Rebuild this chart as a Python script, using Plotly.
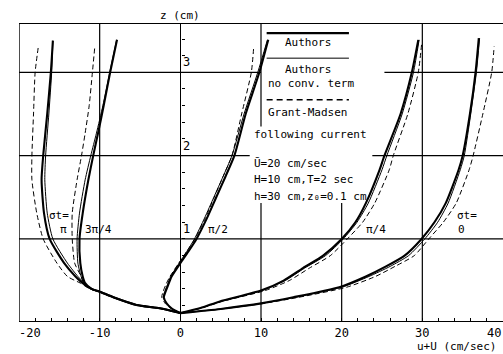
import plotly.graph_objects as go

# ---------------- data (x = u+U in cm/sec, z in cm) ----------------
# sigma t = 0
z_0 = [0.11, 0.16, 0.23, 0.30, 0.42, 0.55, 0.67, 0.80, 1.00, 1.20, 1.43, 1.83, 2.00, 2.50, 3.00, 3.41]
x_0_auth = [0, 5.0, 10.2, 14.0, 19.7, 23.0, 25.5, 27.8, 29.9, 31.5, 32.9, 34.5, 35.0, 35.9, 36.6, 37.0]
x_0_noconv = [0, 5.0, 10.3, 14.2, 20.0, 23.4, 26.0, 28.3, 30.3, 31.9, 33.2, 34.7, 35.2, 36.0, 36.7, 37.1]
z_0_gm = [0.11, 0.16, 0.23, 0.30, 0.42, 0.55, 0.67, 0.80, 1.00, 1.20, 1.43, 1.83, 2.00, 2.50, 3.00, 3.31]
x_0_gm = [0, 5.2, 10.6, 14.7, 20.6, 24.2, 26.6, 29.0, 30.8, 32.6, 34.2, 35.8, 36.3, 37.5, 38.6, 38.9]

# sigma t = pi/4
z_q = [0.11, 0.17, 0.25, 0.38, 0.50, 0.65, 0.80, 1.00, 1.20, 1.43, 1.83, 2.00, 2.50, 3.00, 3.39]
x_q_auth = [0, 2.5, 4.9, 10.0, 12.8, 15.2, 17.7, 20.0, 21.7, 23.0, 24.7, 25.3, 27.3, 28.7, 29.5]
x_q_noconv = [0, 2.5, 5.0, 10.1, 13.0, 15.4, 18.0, 20.2, 21.9, 23.3, 25.0, 25.6, 27.5, 28.9, 29.6]
z_q_gm = [0.11, 0.17, 0.25, 0.38, 0.50, 0.65, 0.80, 1.00, 1.20, 1.43, 1.83, 2.00, 2.50, 3.00, 3.33]
x_q_gm = [0, 2.6, 5.2, 10.5, 13.5, 16.0, 18.6, 20.7, 22.6, 24.1, 25.9, 26.4, 28.2, 29.5, 29.9]

# sigma t = pi/2
z_h = [0.11, 0.168, 0.228, 0.30, 0.35, 0.45, 0.547, 0.71, 0.85, 1.00, 1.25, 1.50, 1.75, 2.00, 2.50, 3.00, 3.39]
x_h_auth = [0, -1.1, -1.7, -2.05, -1.9, -1.5, -1.1, 0, 1.0, 2.0, 3.3, 4.45, 5.6, 6.7, 8.1, 9.8, 10.9]
x_h_noconv = [0, -1.1, -1.75, -2.1, -2.0, -1.6, -1.2, -0.15, 0.8, 1.75, 3.0, 4.15, 5.3, 6.4, 7.9, 9.6, 10.8]
z_h_gm = [0.11, 0.168, 0.228, 0.30, 0.35, 0.45, 0.547, 0.71, 0.85, 1.00, 1.25, 1.50, 1.75, 2.00, 2.50, 3.00, 3.31]
x_h_gm = [0, -1.2, -1.9, -2.3, -2.2, -1.8, -1.3, -0.2, 0.8, 1.8, 3.1, 4.2, 5.3, 6.4, 7.6, 8.8, 9.1]

# sigma t = 3pi/4
z_t = [0.11, 0.168, 0.208, 0.30, 0.367, 0.40, 0.47, 0.55, 0.71, 1.00, 1.31, 1.71, 2.00, 2.27, 2.60, 3.00, 3.39]
x_t_auth = [0, -2.56, -5.45, -8.3, -10.0, -11.0, -11.8, -12.1, -12.4, -12.5, -12.1, -11.4, -10.8, -10.2, -9.5, -8.7, -7.85]
x_t_noconv = [0, -2.56, -5.45, -8.3, -10.0, -11.0, -11.9, -12.3, -12.7, -12.8, -12.5, -11.8, -11.1, -10.4, -9.6, -8.75, -7.9]
z_t_gm = [0.11, 0.168, 0.208, 0.30, 0.367, 0.40, 0.47, 0.55, 0.71, 1.00, 1.31, 1.71, 2.00, 2.27, 2.60, 3.00, 3.31]
x_t_gm = [0, -2.6, -5.5, -8.4, -10.1, -11.2, -12.0, -12.3, -13.1, -13.4, -13.4, -12.8, -12.25, -11.8, -11.3, -10.9, -10.6]

# sigma t = pi
z_p = [0.11, 0.168, 0.208, 0.30, 0.367, 0.40, 0.47, 0.55, 0.71, 1.00, 1.31, 1.71, 2.00, 2.50, 3.00, 3.38]
x_p_auth = [0, -2.56, -5.45, -8.3, -10.0, -11.0, -12.1, -13.0, -14.4, -16.2, -16.9, -17.2, -17.0, -16.5, -16.05, -15.8]
x_p_noconv = [0, -2.56, -5.45, -8.3, -10.0, -11.0, -11.9, -12.7, -14.0, -15.8, -16.5, -16.8, -16.7, -16.3, -15.95, -15.8]
z_p_gm = [0.11, 0.168, 0.208, 0.30, 0.367, 0.40, 0.47, 0.55, 0.71, 1.00, 1.31, 1.71, 2.00, 2.50, 3.00, 3.31]
x_p_gm = [0, -2.6, -5.5, -8.4, -10.1, -11.2, -12.4, -14.0, -15.3, -17.0, -17.8, -18.4, -18.4, -18.2, -18.0, -17.6]

x_ticks = [-10, 0, 10, 20, 30]
z_labels = [1, 2, 3]

# ---------------- figure ----------------
FONT = "DejaVu Sans Mono"
fig = go.Figure()

def add(x, z, kind):
    if kind == "auth":
        line = dict(color="black", width=2.1)
    elif kind == "noconv":
        line = dict(color="black", width=1.0)
    else:
        line = dict(color="black", width=1.0, dash="5px,3px")
    line["shape"] = "spline"
    line["smoothing"] = 0.6
    fig.add_trace(go.Scatter(x=x, y=z, mode="lines", line=line,
                             showlegend=False, hoverinfo="skip"))

for (xa, xn, za, xg, zg) in [
    (x_0_auth, x_0_noconv, z_0, x_0_gm, z_0_gm),
    (x_q_auth, x_q_noconv, z_q, x_q_gm, z_q_gm),
    (x_h_auth, x_h_noconv, z_h, x_h_gm, z_h_gm),
    (x_t_auth, x_t_noconv, z_t, x_t_gm, z_t_gm),
    (x_p_auth, x_p_noconv, z_p, x_p_gm, z_p_gm),
]:
    add(xg, zg, "gm")
    add(xn, za, "noconv")
    add(xa, za, "auth")

GL = dict(color="black", width=1.2)
shapes = []
def seg(x0, y0, x1, y1, yref="y", line=GL):
    shapes.append(dict(type="line", xref="x", yref=yref, x0=x0, y0=y0, x1=x1, y1=y1,
                       line=line, layer="below"))

# left frame
seg(-20, 0, -20, 1, yref="paper", line=dict(color="black", width=1.4))
# vertical grid
seg(-10, 0, -10, 1, yref="paper")
seg(30, 0, 30, 1, yref="paper")
seg(10, 0, 10, 1.43)
seg(10, 2.35, 10, 3.6)
seg(20, 0, 20, 1.43)
# horizontal grid
seg(-20, 1, 40, 1)
seg(-20, 2, 8.6, 2)
seg(23.8, 2, 40, 2)
seg(-20, 3, 10, 3)
seg(25.3, 3, 40, 3)
# legend samples
seg(10.7, 3.47, 20.9, 3.47, line=dict(color="black", width=2.4))
seg(10.7, 3.17, 20.9, 3.17, line=dict(color="black", width=1.0))
seg(10.7, 2.67, 20.9, 2.67, line=dict(color="black", width=1.6, dash="6px,4px"))

ann = []
def txt(x, y, s, xanchor="left", yanchor="middle", size=11, xref="x", yref="y", xs=0, ys=0):
    ann.append(dict(x=x, y=y, text=s, xref=xref, yref=yref, xanchor=xanchor, yanchor=yanchor,
                    showarrow=False, xshift=xs, yshift=ys,
                    font=dict(family=FONT, size=size, color="black")))

txt(15.8, 3.36, "Authors", xanchor="center")
txt(15.8, 3.03, "Authors", xanchor="center")
txt(10.6, 2.86, "no conv. term")
txt(10.6, 2.52, "Grant-Madsen")
txt(8.9, 2.25, "following current")
txt(8.9, 1.91, "Ū=20 cm/sec")
txt(8.9, 1.71, "H=10 cm,T=2 sec")
txt(8.9, 1.51, "h=30 cm,z₀=0.1 cm")

# phase labels
txt(-15.1, 1.28, "σt=", xanchor="center")
txt(-14.5, 1.11, "π", xanchor="center")
txt(-10.1, 1.11, "3π/4", xanchor="center")
txt(4.7, 1.11, "π/2", xanchor="center")
txt(24.3, 1.11, "π/4", xanchor="center")
txt(35.5, 1.28, "σt=", xanchor="center")
txt(34.8, 1.11, "0", xanchor="center")

# z labels on axis
for v in z_labels:
    txt(0, v, str(v), xanchor="left", yanchor="middle", size=12, xs=1, ys=10)

# axis titles
txt(0, 1, "z (cm)", xanchor="center", yanchor="bottom", yref="paper", size=11, ys=0)
txt(39.4, 0, "u+U (cm/sec)", xanchor="right", yanchor="middle", yref="paper", size=11, ys=-25)
# edge tick labels
txt(-20, 0, "-20", xanchor="left", yanchor="top", yref="paper", size=12, xs=-2, ys=-3)
txt(40, 0, "40", xanchor="right", yanchor="top", yref="paper", size=12, ys=-3)

fig.update_layout(
    width=503, height=354,
    margin=dict(l=19, r=0, t=24, b=33),
    paper_bgcolor="white", plot_bgcolor="white",
    shapes=shapes, annotations=ann,
    xaxis=dict(range=[-20, 40], showgrid=False, zeroline=False,
               showline=True, linecolor="black", linewidth=1.4, mirror=True,
               tickmode="array", tickvals=x_ticks, ticktext=[str(v) for v in x_ticks],
               ticks="inside", ticklen=3, tickcolor="black",
               minor=dict(dtick=2, tick0=0, ticks="inside", ticklen=3, tickcolor="black"),
               tickfont=dict(family=FONT, size=12, color="black"),
               ticklabelstandoff=0),
    yaxis=dict(range=[0.015, 3.58], anchor="free", position=1/3,
               showgrid=False, zeroline=False,
               showline=True, linecolor="black", linewidth=1.4,
               ticks="inside", ticklen=3, tickcolor="black", dtick=0.2, tick0=0,
               showticklabels=False),
)

fig.write_html("out.html")
